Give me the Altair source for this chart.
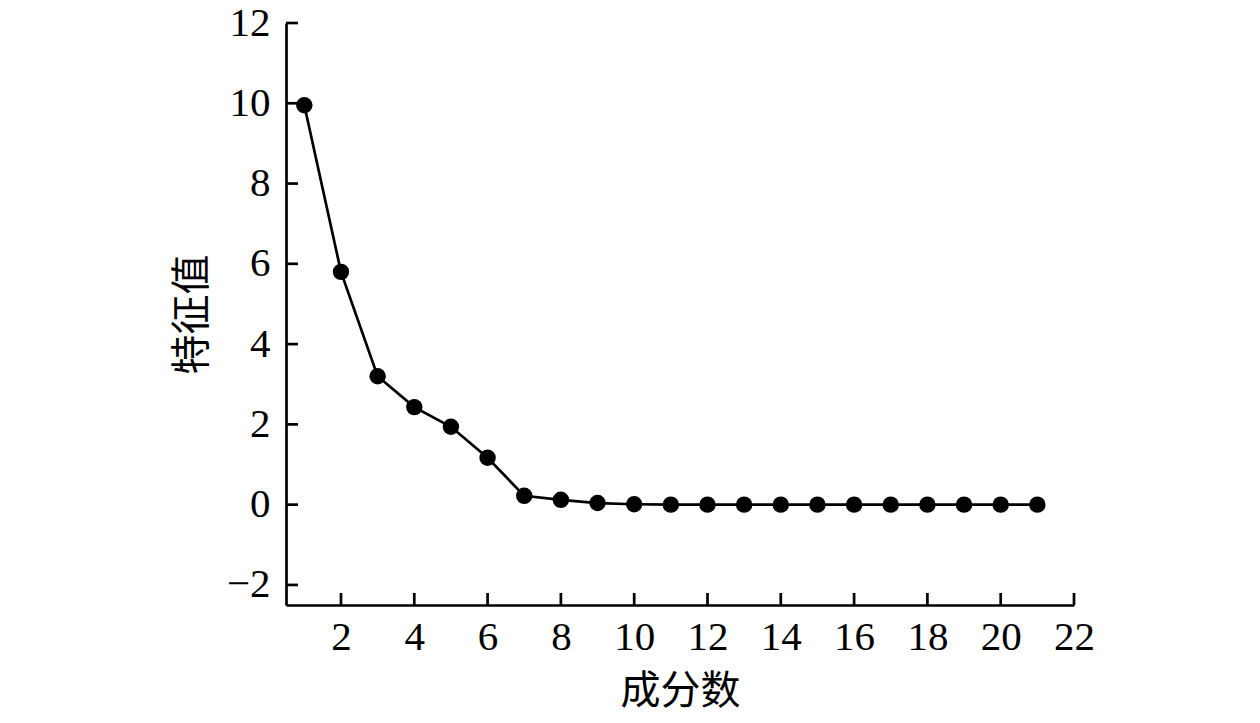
import altair as alt
import pandas as pd

components = list(range(1, 22))
eigenvalues = [9.95, 5.80, 3.20, 2.43, 1.94, 1.17, 0.22, 0.12, 0.04, 0.01,
               0.0, 0.0, 0.0, 0.0, 0.0, 0.0, 0.0, 0.0, 0.0, 0.0, 0.0]
x_ticks = list(range(2, 23, 2))
y_ticks = list(range(-2, 13, 2))

W, H = 788, 582
df = pd.DataFrame({"n": components, "v": eigenvalues})
xs = alt.Scale(domain=[0.5, 22], nice=False, zero=False)
ys = alt.Scale(domain=[-2.5, 12], nice=False, zero=False)

FONT = "Liberation Serif"
CJK = "Noto Sans CJK SC"

base = alt.Chart(df)
line = base.mark_line(color="black", strokeWidth=2.7).encode(
    x=alt.X("n:Q", scale=xs, axis=alt.Axis(
        title="成分数", values=x_ticks, ticks=False, grid=False,
        labelFont=FONT, labelFontSize=41, labelColor="black", labelPadding=12,
        titleFont=CJK, titleFontSize=40, titleFontWeight="normal", titleColor="black",
        titlePadding=14, domainColor="black", domainWidth=2.7, labelFlush=False)),
    y=alt.Y("v:Q", scale=ys, axis=alt.Axis(
        title="特征值", values=y_ticks, ticks=False, grid=False, format="d",
        labelFont=FONT, labelFontSize=41, labelColor="black", labelPadding=16,
        titleFont=CJK, titleFontSize=40, titleFontWeight="normal", titleColor="black",
        titlePadding=14, domainColor="black", domainWidth=2.7, labelFlush=False)),
)
pts = base.mark_circle(color="black", opacity=1, size=270).encode(
    x=alt.X("n:Q", scale=xs), y=alt.Y("v:Q", scale=ys))

xt = alt.Chart(pd.DataFrame({"t": x_ticks})).mark_rule(color="black", strokeWidth=2.7).encode(
    x=alt.X("t:Q", scale=xs), y=alt.value(H), y2=alt.value(H - 12))
yt = alt.Chart(pd.DataFrame({"t": y_ticks})).mark_rule(color="black", strokeWidth=2.7).encode(
    y=alt.Y("t:Q", scale=ys), x=alt.value(0), x2=alt.value(12))

chart = alt.layer(line, pts, xt, yt).properties(
    width=W, height=H,
    background="white",
    autosize=alt.AutoSizeParams(type="none"),
    padding={"left": 278, "top": 15, "right": 170, "bottom": 110},
).configure_view(strokeWidth=0, stroke=None)

chart.save("out.html", embed_options={"renderer": "svg", "actions": False})
